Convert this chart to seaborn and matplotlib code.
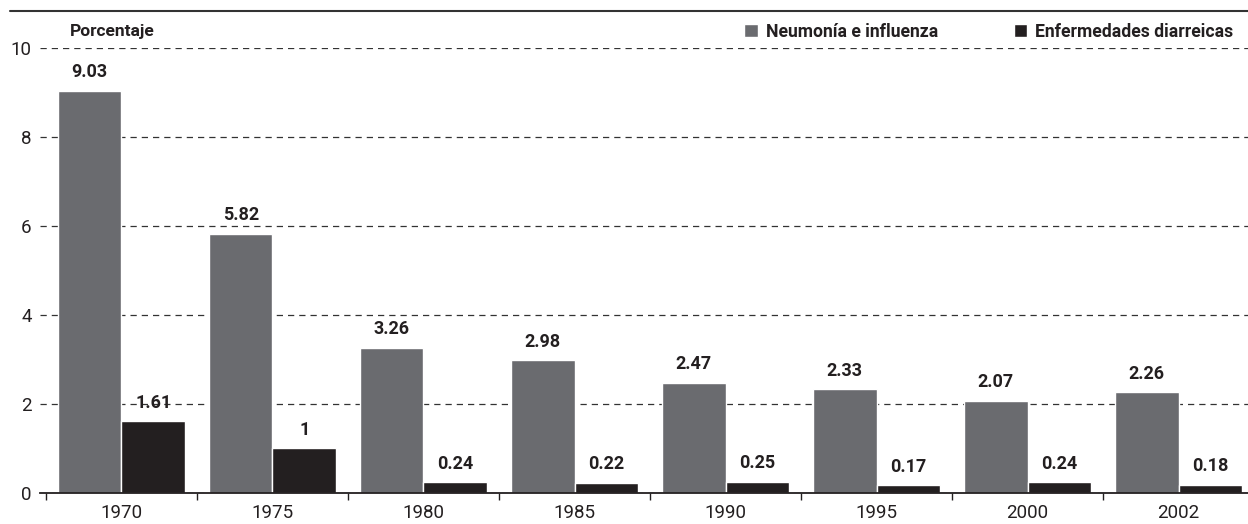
import pandas as pd
import seaborn as sns
import matplotlib.pyplot as plt
from matplotlib.lines import Line2D
from matplotlib.ticker import FixedLocator

years = ['1970', '1975', '1980', '1985', '1990', '1995', '2000', '2002']
neumonia = [9.03, 5.82, 3.26, 2.98, 2.47, 2.33, 2.07, 2.26]
diarreicas = [1.61, 1.00, 0.24, 0.22, 0.25, 0.17, 0.24, 0.18]
series = ['Neumonía e influenza', 'Enfermedades diarreicas']
colors = ['#6a6b6f', '#231f20']

data = pd.DataFrame({
    'year': years * 2,
    'serie': [series[0]] * len(years) + [series[1]] * len(years),
    'value': neumonia + diarreicas,
})

sns.set_theme(style='white')
plt.rcParams['font.family'] = ['Roboto', 'DejaVu Sans']

fig = plt.figure(figsize=(12.48, 5.24), dpi=100)
ax = fig.add_axes([0.032, 0.0592, 0.968, 0.8492])

sns.barplot(data=data, x='year', y='value', hue='serie', palette=colors,
            width=0.84, saturation=1, gap=0, ax=ax)

# value labels
for cont, vals in zip(ax.containers, [neumonia, diarreicas]):
    ax.bar_label(cont, labels=[f'{v:g}' for v in vals], padding=7,
                 fontsize=13, fontweight='bold', color='#231f20')

ax.set_ylim(0, 10)
ax.set_xlim(-0.54, 7.46)
ax.set_yticks([0, 2, 4, 6, 8, 10])
ax.set_xlabel('')
ax.set_ylabel('')

# dashed gridlines
ax.yaxis.grid(True, linestyle=(0, (5, 4)), color='#333333', linewidth=0.9)
ax.set_axisbelow(True)

for s in ['top', 'right', 'left']:
    ax.spines[s].set_visible(False)
ax.spines['bottom'].set_color('#231f20')
ax.spines['bottom'].set_linewidth(1.3)

ax.tick_params(axis='y', length=0, pad=6, labelsize=13.5, labelcolor='#231f20')
ax.tick_params(axis='x', which='major', length=0, pad=8, labelsize=13.5,
               labelcolor='#231f20')
ax.xaxis.set_minor_locator(FixedLocator([i - 0.5 for i in range(len(years))]))
ax.tick_params(axis='x', which='minor', direction='out', length=5, width=1,
               color='#231f20', bottom=True)

sns.move_legend(ax, 'center right', bbox_to_anchor=(0.995, 0.939),
                bbox_transform=fig.transFigure, ncol=2, frameon=False,
                title=None, fontsize=12.7, handlelength=0.75, handleheight=0.75,
                handletextpad=0.45, columnspacing=4.3, borderpad=0)
for t in ax.get_legend().get_texts():
    t.set_fontweight('bold')
    t.set_color('#231f20')

fig.text(0.056, 0.939, 'Porcentaje', fontsize=12.5, fontweight='bold',
         color='#231f20', va='center', ha='left')

fig.add_artist(Line2D([0.008, 1.0], [0.979, 0.979], transform=fig.transFigure,
                      color='#333333', linewidth=1.5))

fig.savefig('out.png', dpi=100)
